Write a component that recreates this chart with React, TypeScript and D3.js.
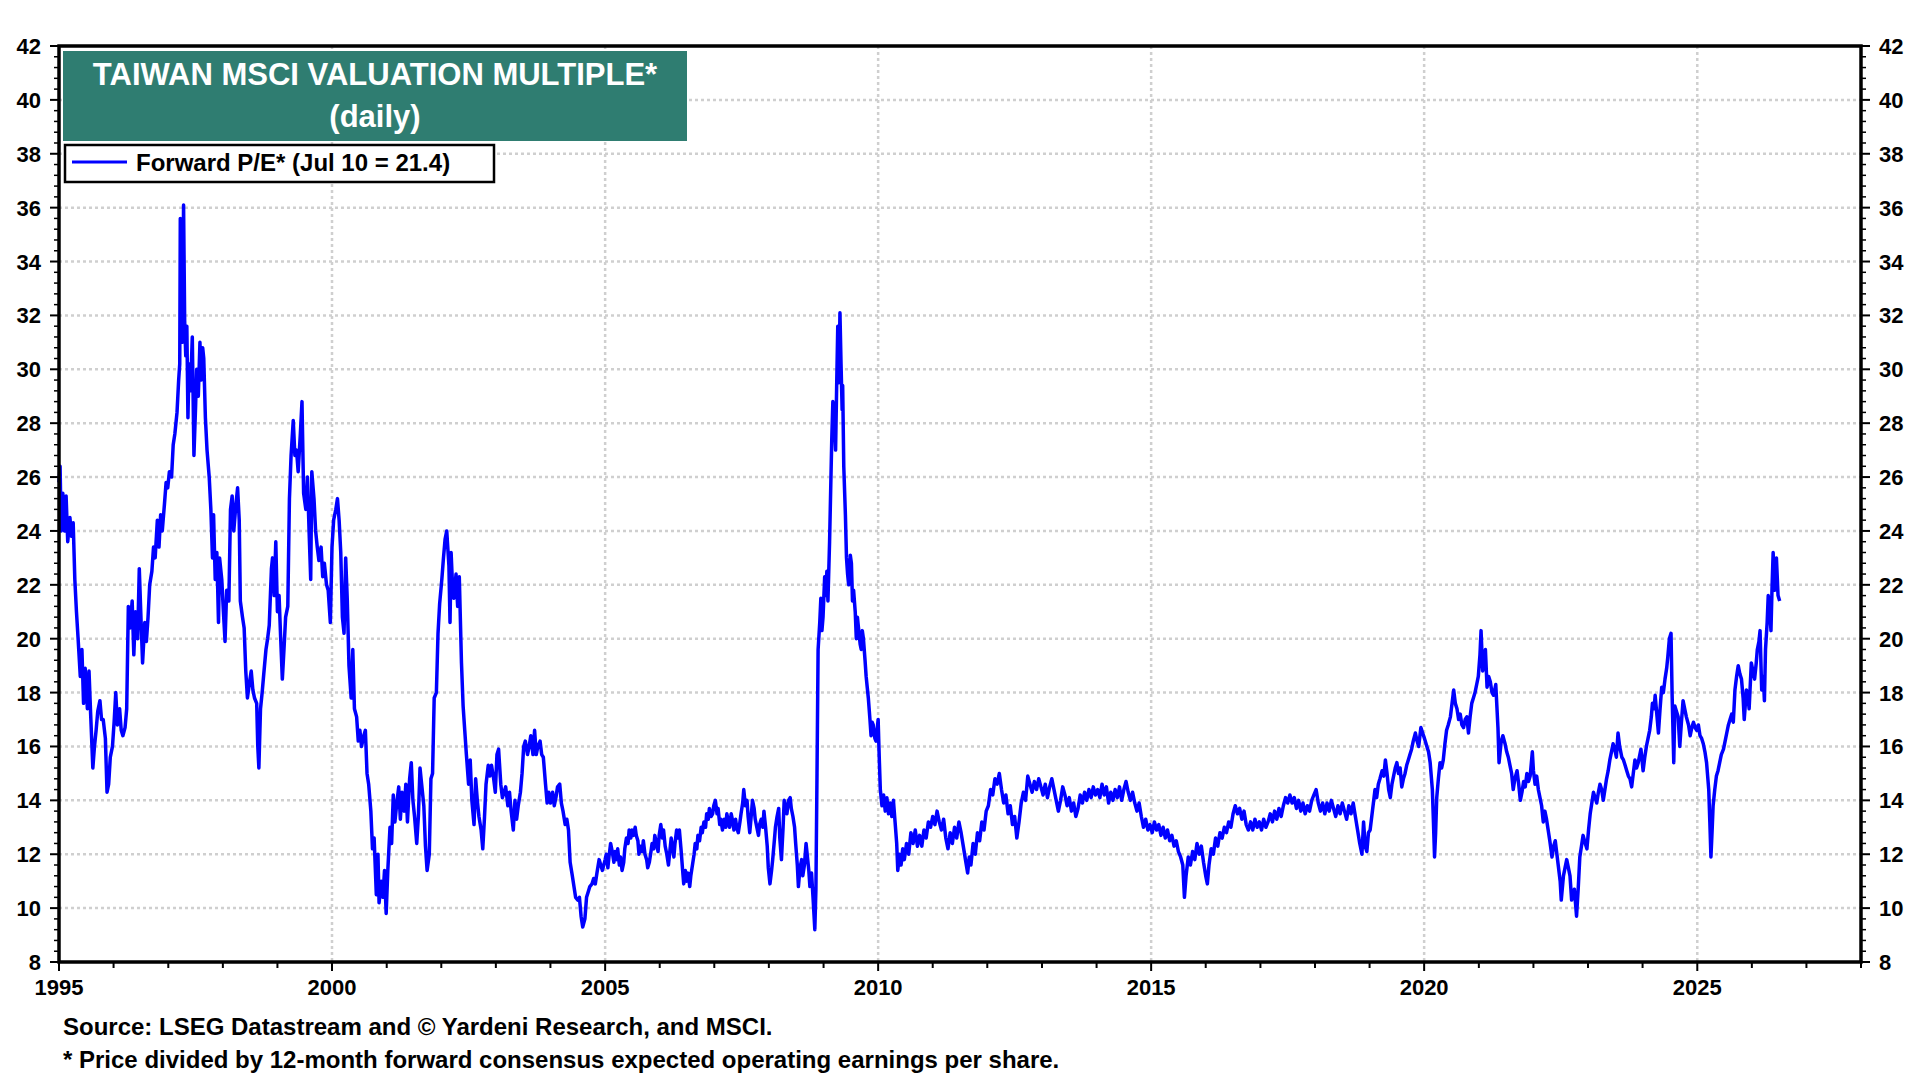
import React, { useEffect } from "react";
import * as d3 from "d3";

// ---------- DATA (decimal year, forward P/E) ----------
const pe1995_1999: [number, number][] = [
  [1995.0, 25.8], [1995.02, 26.4], [1995.04, 24.0], [1995.07, 25.4], [1995.1, 24.0], [1995.13, 25.3],
  [1995.16, 23.6], [1995.2, 24.5], [1995.23, 23.8], [1995.26, 24.3], [1995.29, 22.2], [1995.32, 21.0],
  [1995.35, 20.0], [1995.39, 18.6], [1995.42, 19.6], [1995.45, 17.6], [1995.48, 18.9], [1995.52, 17.4],
  [1995.55, 18.8], [1995.58, 17.2], [1995.62, 15.2], [1995.65, 16.0], [1995.68, 16.6], [1995.71, 17.3],
  [1995.75, 17.7], [1995.78, 17.0], [1995.81, 17.0], [1995.85, 16.3], [1995.88, 14.3], [1995.91, 14.6],
  [1995.94, 15.6], [1995.98, 16.0], [1996.01, 16.9], [1996.04, 18.0], [1996.07, 16.8], [1996.11, 17.4],
  [1996.14, 16.6], [1996.17, 16.4], [1996.21, 16.7], [1996.24, 17.4], [1996.27, 21.2], [1996.3, 20.4],
  [1996.34, 21.4], [1996.37, 19.4], [1996.4, 21.0], [1996.44, 20.0], [1996.47, 22.6], [1996.5, 20.8],
  [1996.53, 19.1], [1996.57, 20.6], [1996.6, 19.9], [1996.63, 20.8], [1996.66, 22.0], [1996.7, 22.5],
  [1996.73, 23.4], [1996.76, 23.0], [1996.8, 24.4], [1996.83, 23.4], [1996.86, 24.6], [1996.89, 24.0],
  [1996.93, 25.0], [1996.96, 25.8], [1996.99, 25.6], [1997.02, 26.2], [1997.06, 26.0], [1997.09, 27.2],
  [1997.12, 27.6], [1997.16, 28.4], [1997.19, 29.6], [1997.21, 30.2], [1997.22, 35.6], [1997.24, 33.0],
  [1997.26, 31.0], [1997.28, 36.1], [1997.3, 31.8], [1997.32, 30.5], [1997.34, 31.6], [1997.36, 28.2],
  [1997.38, 30.2], [1997.4, 29.2], [1997.42, 30.0], [1997.44, 31.2], [1997.47, 26.8], [1997.5, 28.6],
  [1997.52, 30.0], [1997.55, 29.0], [1997.58, 31.0], [1997.6, 29.6], [1997.63, 30.8], [1997.65, 30.4],
  [1997.68, 28.2], [1997.71, 27.0], [1997.75, 26.0], [1997.78, 24.8], [1997.81, 23.0], [1997.83, 24.6],
  [1997.86, 22.2], [1997.89, 23.2], [1997.92, 20.6], [1997.94, 23.0], [1997.98, 22.2], [1998.01, 21.0],
  [1998.04, 19.9], [1998.07, 21.8], [1998.11, 21.4], [1998.14, 24.8], [1998.17, 25.3], [1998.2, 24.0],
  [1998.24, 25.0], [1998.27, 25.6], [1998.3, 24.4], [1998.32, 21.4], [1998.36, 20.8], [1998.39, 20.4],
  [1998.42, 18.8], [1998.45, 17.8], [1998.49, 18.4], [1998.52, 18.8], [1998.55, 18.1], [1998.58, 17.8],
  [1998.62, 17.6], [1998.64, 16.0], [1998.66, 15.2], [1998.69, 17.4], [1998.72, 18.0], [1998.75, 18.7],
  [1998.79, 19.6], [1998.82, 20.0], [1998.85, 20.5], [1998.89, 22.6], [1998.91, 23.0], [1998.94, 21.6],
  [1998.97, 23.6], [1999.0, 21.0], [1999.03, 21.6], [1999.06, 20.0], [1999.09, 18.5], [1999.12, 19.6],
  [1999.15, 20.8], [1999.19, 21.2], [1999.22, 25.2], [1999.25, 26.8], [1999.29, 28.1], [1999.32, 26.8],
  [1999.35, 27.0], [1999.38, 26.2], [1999.42, 27.6], [1999.45, 28.8], [1999.48, 25.4], [1999.52, 24.8],
  [1999.55, 26.0], [1999.58, 24.0], [1999.61, 22.2], [1999.63, 26.2], [1999.67, 25.2], [1999.7, 24.0],
  [1999.73, 23.4], [1999.76, 22.9], [1999.8, 23.4], [1999.83, 22.3], [1999.86, 22.8], [1999.9, 22.0],
  [1999.93, 21.8], [1999.97, 20.6],
];

const pe2000_2004: [number, number][] = [
  [2000.0, 23.4], [2000.03, 24.4], [2000.07, 24.8], [2000.1, 25.2], [2000.13, 24.4], [2000.16, 23.2],
  [2000.19, 20.8], [2000.22, 20.2], [2000.25, 23.0], [2000.28, 21.4], [2000.31, 19.0], [2000.35, 17.8],
  [2000.38, 19.6], [2000.41, 17.4], [2000.45, 17.1], [2000.48, 16.2], [2000.51, 16.6], [2000.54, 16.0],
  [2000.58, 16.4], [2000.61, 16.6], [2000.64, 15.0], [2000.67, 14.6], [2000.71, 13.6], [2000.74, 12.2],
  [2000.77, 12.6], [2000.81, 10.5], [2000.84, 12.0], [2000.86, 10.2], [2000.9, 11.0], [2000.93, 10.4],
  [2000.96, 11.4], [2000.99, 9.8], [2001.02, 11.4], [2001.06, 13.0], [2001.09, 12.4], [2001.12, 14.2],
  [2001.15, 13.2], [2001.19, 14.0], [2001.22, 14.5], [2001.25, 13.3], [2001.28, 14.3], [2001.32, 13.6],
  [2001.35, 14.6], [2001.38, 13.2], [2001.42, 14.8], [2001.45, 15.4], [2001.48, 14.0], [2001.51, 13.4],
  [2001.55, 12.4], [2001.58, 13.4], [2001.61, 15.2], [2001.64, 14.6], [2001.68, 13.8], [2001.71, 12.3],
  [2001.74, 11.4], [2001.78, 12.0], [2001.81, 14.8], [2001.84, 15.0], [2001.87, 17.8], [2001.91, 18.0],
  [2001.94, 20.2], [2001.97, 21.3], [2002.01, 22.2], [2002.04, 23.0], [2002.07, 23.7], [2002.1, 24.0],
  [2002.14, 22.7], [2002.16, 20.6], [2002.18, 23.2], [2002.21, 21.8], [2002.23, 21.5], [2002.27, 22.4],
  [2002.3, 21.2], [2002.33, 22.3], [2002.37, 19.1], [2002.4, 17.5], [2002.43, 16.6], [2002.46, 15.7],
  [2002.5, 14.6], [2002.53, 15.5], [2002.56, 14.0], [2002.6, 13.1], [2002.63, 14.8], [2002.66, 14.0],
  [2002.69, 13.4], [2002.73, 12.9], [2002.76, 12.2], [2002.79, 13.3], [2002.82, 14.6], [2002.86, 15.3],
  [2002.89, 14.9], [2002.92, 15.3], [2002.96, 14.8], [2002.99, 14.3], [2003.02, 15.7], [2003.05, 15.9],
  [2003.09, 14.6], [2003.12, 14.1], [2003.15, 14.3], [2003.18, 14.5], [2003.22, 13.8], [2003.25, 14.3],
  [2003.28, 13.6], [2003.32, 12.9], [2003.35, 14.0], [2003.38, 13.3], [2003.41, 13.8], [2003.45, 14.3],
  [2003.48, 15.0], [2003.51, 16.0], [2003.54, 16.2], [2003.58, 15.7], [2003.61, 16.0], [2003.64, 16.4],
  [2003.68, 15.7], [2003.71, 16.6], [2003.74, 15.7], [2003.77, 16.0], [2003.81, 16.2], [2003.84, 15.7],
  [2003.87, 15.6], [2003.91, 14.6], [2003.94, 13.9], [2003.97, 14.3], [2004.0, 13.9], [2004.04, 14.3],
  [2004.07, 13.8], [2004.1, 14.1], [2004.13, 14.5], [2004.17, 14.6], [2004.2, 13.9], [2004.23, 13.6],
  [2004.27, 13.1], [2004.3, 13.3], [2004.33, 12.9], [2004.36, 11.7], [2004.4, 11.2], [2004.43, 10.8],
  [2004.46, 10.4], [2004.5, 10.3], [2004.53, 10.4], [2004.56, 9.7], [2004.59, 9.3], [2004.63, 9.6],
  [2004.66, 10.4], [2004.69, 10.6], [2004.72, 10.8], [2004.76, 10.9], [2004.79, 11.1], [2004.82, 10.9],
  [2004.85, 11.3], [2004.89, 11.8], [2004.92, 11.6], [2004.95, 11.4],
];

const pe2005_2009: [number, number][] = [
  [2005.0, 11.8], [2005.02, 12.0], [2005.05, 11.5], [2005.07, 11.9], [2005.1, 12.4], [2005.13, 12.1],
  [2005.16, 11.7], [2005.18, 12.1], [2005.21, 11.8], [2005.23, 12.2], [2005.26, 11.6], [2005.28, 11.9],
  [2005.31, 11.4], [2005.34, 11.7], [2005.36, 12.2], [2005.39, 12.6], [2005.42, 12.4], [2005.44, 12.9],
  [2005.47, 12.6], [2005.49, 12.9], [2005.52, 12.7], [2005.55, 13.0], [2005.57, 12.7], [2005.6, 12.5],
  [2005.62, 12.0], [2005.65, 12.3], [2005.68, 12.1], [2005.7, 12.5], [2005.73, 12.0], [2005.76, 11.8],
  [2005.78, 11.5], [2005.81, 11.7], [2005.84, 12.1], [2005.86, 12.4], [2005.89, 12.2], [2005.91, 12.7],
  [2005.94, 12.4], [2005.97, 12.1], [2005.99, 12.7], [2006.02, 13.1], [2006.05, 12.6], [2006.07, 12.9],
  [2006.1, 12.3], [2006.13, 12.0], [2006.16, 11.6], [2006.18, 12.0], [2006.21, 12.6], [2006.23, 12.3],
  [2006.26, 11.9], [2006.28, 12.4], [2006.31, 12.9], [2006.34, 12.6], [2006.36, 12.9], [2006.39, 12.2],
  [2006.42, 11.4], [2006.44, 10.9], [2006.47, 11.4], [2006.49, 11.0], [2006.52, 11.3], [2006.55, 10.8],
  [2006.57, 11.2], [2006.6, 11.6], [2006.63, 12.0], [2006.65, 12.4], [2006.68, 12.2], [2006.7, 12.7],
  [2006.73, 12.5], [2006.76, 13.0], [2006.78, 12.8], [2006.81, 13.2], [2006.84, 13.0], [2006.86, 13.5],
  [2006.89, 13.3], [2006.91, 13.7], [2006.94, 13.4], [2006.97, 13.5], [2006.99, 13.8], [2007.02, 14.0],
  [2007.05, 13.5], [2007.07, 13.7], [2007.1, 13.1], [2007.12, 13.3], [2007.15, 12.9], [2007.18, 13.3],
  [2007.21, 13.0], [2007.23, 13.5], [2007.26, 13.2], [2007.28, 13.0], [2007.31, 13.5], [2007.33, 13.3],
  [2007.36, 12.9], [2007.39, 13.3], [2007.41, 13.0], [2007.44, 12.8], [2007.47, 13.2], [2007.49, 13.5],
  [2007.52, 13.9], [2007.54, 14.4], [2007.57, 13.8], [2007.6, 14.0], [2007.62, 13.4], [2007.65, 12.8],
  [2007.68, 13.5], [2007.7, 14.0], [2007.73, 13.7], [2007.75, 13.3], [2007.78, 13.0], [2007.81, 12.7],
  [2007.83, 13.1], [2007.86, 13.3], [2007.89, 13.0], [2007.91, 13.6], [2007.94, 13.0], [2007.97, 12.3],
  [2007.99, 11.5], [2008.02, 10.9], [2008.05, 11.4], [2008.07, 11.8], [2008.1, 12.5], [2008.12, 13.0],
  [2008.15, 13.4], [2008.18, 13.7], [2008.2, 12.6], [2008.23, 11.8], [2008.26, 13.0], [2008.28, 14.0],
  [2008.31, 13.7], [2008.33, 13.5], [2008.36, 14.0], [2008.39, 14.1], [2008.41, 13.7], [2008.44, 13.4],
  [2008.47, 13.0], [2008.49, 12.4], [2008.52, 11.6], [2008.54, 10.8], [2008.57, 11.5], [2008.6, 11.8],
  [2008.62, 11.2], [2008.65, 11.6], [2008.68, 12.4], [2008.7, 12.0], [2008.73, 11.4], [2008.75, 10.8],
  [2008.78, 11.3], [2008.81, 10.3], [2008.84, 9.2], [2008.86, 10.7], [2008.88, 15.0], [2008.9, 19.6],
  [2008.93, 20.6], [2008.95, 21.5], [2008.97, 20.3], [2008.99, 20.8], [2009.02, 22.3], [2009.04, 21.6],
  [2009.06, 22.5], [2009.08, 21.4], [2009.11, 23.6], [2009.13, 25.5], [2009.15, 27.4], [2009.17, 28.8],
  [2009.2, 28.0], [2009.22, 27.0], [2009.24, 29.4], [2009.26, 31.6], [2009.28, 29.5], [2009.3, 32.1],
  [2009.32, 30.2], [2009.34, 28.5], [2009.35, 29.4], [2009.37, 26.4], [2009.4, 24.6], [2009.42, 23.0],
  [2009.44, 22.4], [2009.46, 22.0], [2009.49, 23.1], [2009.51, 22.8], [2009.53, 21.4], [2009.55, 21.8],
  [2009.58, 21.0], [2009.6, 20.0], [2009.62, 20.8], [2009.64, 20.4], [2009.67, 19.8], [2009.69, 19.6],
  [2009.71, 20.3], [2009.73, 20.0], [2009.76, 19.2], [2009.78, 18.6], [2009.8, 18.2], [2009.82, 17.8],
  [2009.85, 17.0], [2009.87, 16.4], [2009.89, 16.9], [2009.91, 16.8], [2009.94, 16.3], [2009.96, 16.2],
  [2009.98, 16.6],
];

const pe2010_2018: [number, number][] = [
  [2010.0, 17.0], [2010.02, 15.6], [2010.04, 14.4], [2010.07, 13.8], [2010.1, 14.2], [2010.13, 13.6],
  [2010.16, 14.1], [2010.19, 13.5], [2010.22, 13.9], [2010.25, 13.4], [2010.28, 14.0], [2010.31, 13.2],
  [2010.34, 12.4], [2010.36, 11.4], [2010.39, 12.0], [2010.42, 11.6], [2010.45, 12.2], [2010.48, 11.8],
  [2010.52, 12.4], [2010.56, 12.0], [2010.6, 12.8], [2010.64, 12.4], [2010.68, 12.9], [2010.72, 12.3],
  [2010.76, 12.7], [2010.8, 12.3], [2010.84, 12.9], [2010.88, 12.6], [2010.92, 13.2], [2010.96, 13.0],
  [2011.0, 13.4], [2011.04, 13.1], [2011.08, 13.6], [2011.12, 13.2], [2011.16, 12.9], [2011.2, 13.3],
  [2011.24, 12.6], [2011.28, 12.2], [2011.32, 12.8], [2011.36, 12.4], [2011.4, 13.0], [2011.44, 12.6],
  [2011.48, 13.2], [2011.52, 12.8], [2011.56, 12.3], [2011.6, 11.8], [2011.64, 11.3], [2011.67, 11.9],
  [2011.7, 11.6], [2011.74, 12.4], [2011.78, 12.0], [2011.82, 12.8], [2011.86, 12.5], [2011.9, 13.2],
  [2011.94, 12.9], [2011.98, 13.6], [2012.02, 13.8], [2012.06, 14.4], [2012.1, 14.2], [2012.14, 14.8],
  [2012.18, 14.6], [2012.22, 15.0], [2012.26, 14.4], [2012.3, 13.9], [2012.34, 14.2], [2012.38, 13.5],
  [2012.42, 13.8], [2012.46, 13.1], [2012.5, 13.4], [2012.54, 12.6], [2012.58, 13.2], [2012.62, 13.9],
  [2012.66, 14.3], [2012.7, 14.0], [2012.74, 14.9], [2012.78, 14.6], [2012.82, 14.3], [2012.86, 14.7],
  [2012.9, 14.4], [2012.94, 14.8], [2012.98, 14.5], [2013.02, 14.2], [2013.06, 14.6], [2013.1, 14.1],
  [2013.14, 14.5], [2013.18, 14.8], [2013.22, 14.4], [2013.26, 14.0], [2013.3, 13.6], [2013.34, 14.0],
  [2013.38, 14.5], [2013.42, 14.2], [2013.46, 13.8], [2013.5, 14.1], [2013.54, 13.6], [2013.58, 13.9],
  [2013.62, 13.4], [2013.66, 13.7], [2013.7, 14.2], [2013.74, 13.9], [2013.78, 14.3], [2013.82, 14.0],
  [2013.86, 14.4], [2013.9, 14.1], [2013.94, 14.5], [2013.98, 14.2], [2014.02, 14.4], [2014.06, 14.1],
  [2014.1, 14.6], [2014.14, 14.2], [2014.18, 14.5], [2014.22, 13.9], [2014.26, 14.3], [2014.3, 14.0],
  [2014.34, 14.4], [2014.38, 14.1], [2014.42, 14.5], [2014.46, 14.0], [2014.5, 14.4], [2014.54, 14.7],
  [2014.58, 14.3], [2014.62, 14.0], [2014.66, 14.3], [2014.7, 13.9], [2014.74, 13.6], [2014.78, 13.9],
  [2014.82, 13.4], [2014.86, 13.0], [2014.9, 13.3], [2014.94, 12.9], [2014.98, 13.1], [2015.02, 12.8],
  [2015.06, 13.2], [2015.1, 12.9], [2015.14, 13.1], [2015.18, 12.7], [2015.22, 13.0], [2015.26, 12.6],
  [2015.3, 12.9], [2015.34, 12.5], [2015.38, 12.7], [2015.42, 12.3], [2015.46, 12.5], [2015.5, 12.1],
  [2015.54, 11.9], [2015.58, 11.6], [2015.61, 10.4], [2015.64, 11.2], [2015.68, 11.9], [2015.72, 11.6],
  [2015.76, 12.1], [2015.8, 11.8], [2015.84, 12.4], [2015.88, 12.0], [2015.92, 12.3], [2015.96, 11.7],
  [2016.0, 11.2], [2016.03, 10.9], [2016.06, 11.6], [2016.1, 12.2], [2016.14, 12.0], [2016.18, 12.6],
  [2016.22, 12.3], [2016.26, 12.8], [2016.3, 12.6], [2016.34, 13.0], [2016.38, 12.8], [2016.42, 13.2],
  [2016.46, 13.0], [2016.5, 13.5], [2016.54, 13.8], [2016.58, 13.5], [2016.62, 13.7], [2016.66, 13.3],
  [2016.7, 13.6], [2016.74, 13.1], [2016.78, 12.9], [2016.82, 13.2], [2016.86, 12.9], [2016.9, 13.3],
  [2016.94, 13.0], [2016.98, 13.2], [2017.02, 12.9], [2017.06, 13.3], [2017.1, 13.0], [2017.14, 13.2],
  [2017.18, 13.5], [2017.22, 13.2], [2017.26, 13.6], [2017.3, 13.3], [2017.34, 13.7], [2017.38, 13.4],
  [2017.42, 13.8], [2017.46, 14.1], [2017.5, 13.9], [2017.54, 14.2], [2017.58, 13.9], [2017.62, 14.1],
  [2017.66, 13.7], [2017.7, 14.0], [2017.74, 13.6], [2017.78, 13.9], [2017.82, 13.5], [2017.86, 13.8],
  [2017.9, 13.6], [2017.94, 14.0], [2017.98, 14.2], [2018.02, 14.4], [2018.06, 13.9], [2018.1, 13.6],
  [2018.14, 13.9], [2018.18, 13.5], [2018.22, 13.9], [2018.26, 13.6], [2018.3, 14.0], [2018.34, 13.7],
  [2018.38, 13.4], [2018.42, 13.8], [2018.46, 13.5], [2018.5, 13.9], [2018.54, 13.6], [2018.58, 13.3],
  [2018.62, 13.8], [2018.66, 13.5], [2018.7, 13.9], [2018.74, 13.4], [2018.78, 12.9], [2018.82, 12.4],
  [2018.86, 12.0], [2018.89, 13.2], [2018.92, 12.3], [2018.95, 12.1], [2018.98, 12.8],
];

const pe2019_2026: [number, number][] = [
  [2019.01, 12.9], [2019.04, 13.4], [2019.07, 13.9], [2019.1, 14.4], [2019.13, 14.1], [2019.16, 14.6],
  [2019.19, 14.8], [2019.23, 15.1], [2019.26, 14.9], [2019.29, 15.5], [2019.32, 15.0], [2019.35, 14.4],
  [2019.38, 14.1], [2019.41, 14.6], [2019.44, 14.9], [2019.47, 15.2], [2019.5, 15.4], [2019.53, 15.0],
  [2019.56, 15.2], [2019.59, 14.5], [2019.62, 14.8], [2019.65, 15.0], [2019.68, 15.3], [2019.71, 15.5],
  [2019.74, 15.7], [2019.77, 15.9], [2019.8, 16.2], [2019.84, 16.5], [2019.87, 16.2], [2019.9, 16.0],
  [2019.94, 16.7], [2019.99, 16.4], [2020.02, 16.2], [2020.05, 16.0], [2020.08, 15.8], [2020.11, 15.4],
  [2020.15, 14.4], [2020.17, 13.2], [2020.19, 11.9], [2020.21, 12.8], [2020.23, 14.1], [2020.26, 14.8],
  [2020.29, 15.4], [2020.32, 15.2], [2020.35, 15.5], [2020.38, 16.1], [2020.41, 16.6], [2020.44, 16.8],
  [2020.48, 17.1], [2020.51, 17.6], [2020.54, 18.1], [2020.57, 17.6], [2020.6, 17.4], [2020.63, 17.0],
  [2020.66, 17.2], [2020.69, 16.8], [2020.72, 16.7], [2020.75, 17.0], [2020.78, 17.1], [2020.81, 16.5],
  [2020.84, 17.1], [2020.87, 17.6], [2020.9, 17.8], [2020.93, 18.0], [2020.96, 18.3], [2020.99, 18.6],
  [2021.02, 19.4], [2021.04, 20.3], [2021.07, 18.8], [2021.1, 19.2], [2021.12, 19.6], [2021.15, 18.2],
  [2021.18, 18.6], [2021.21, 18.4], [2021.24, 18.0], [2021.27, 17.9], [2021.31, 18.3], [2021.35, 16.7],
  [2021.37, 15.4], [2021.41, 16.2], [2021.44, 16.4], [2021.48, 16.1], [2021.51, 15.8], [2021.54, 15.6],
  [2021.57, 15.3], [2021.6, 15.0], [2021.63, 14.4], [2021.66, 14.8], [2021.7, 15.1], [2021.73, 14.6],
  [2021.76, 14.0], [2021.79, 14.3], [2021.82, 14.7], [2021.85, 14.5], [2021.88, 15.0], [2021.91, 14.7],
  [2021.94, 14.9], [2021.98, 15.8], [2022.0, 15.1], [2022.03, 14.6], [2022.06, 14.9], [2022.09, 14.4],
  [2022.12, 14.1], [2022.15, 13.8], [2022.18, 13.2], [2022.21, 13.6], [2022.24, 13.3], [2022.27, 12.9],
  [2022.3, 12.5], [2022.34, 11.9], [2022.37, 12.3], [2022.4, 12.5], [2022.43, 12.0], [2022.46, 11.5],
  [2022.49, 11.0], [2022.51, 10.3], [2022.55, 11.2], [2022.58, 11.5], [2022.61, 11.8], [2022.64, 11.5],
  [2022.67, 11.2], [2022.7, 10.3], [2022.75, 10.7], [2022.77, 10.2], [2022.79, 9.7], [2022.82, 10.7],
  [2022.85, 11.9], [2022.88, 12.3], [2022.91, 12.7], [2022.95, 12.4], [2022.98, 12.2], [2023.01, 12.9],
  [2023.04, 13.5], [2023.07, 13.9], [2023.1, 14.3], [2023.13, 14.1], [2023.16, 13.9], [2023.19, 14.3],
  [2023.22, 14.6], [2023.25, 14.4], [2023.28, 14.0], [2023.31, 14.4], [2023.34, 14.8], [2023.37, 15.1],
  [2023.4, 15.5], [2023.43, 15.8], [2023.46, 16.1], [2023.49, 15.9], [2023.52, 15.6], [2023.55, 16.5],
  [2023.58, 16.0], [2023.62, 15.6], [2023.65, 15.5], [2023.68, 15.3], [2023.71, 15.1], [2023.74, 14.9],
  [2023.77, 14.8], [2023.8, 14.5], [2023.83, 15.0], [2023.86, 15.5], [2023.89, 15.2], [2023.92, 15.4],
  [2023.95, 15.7], [2023.97, 15.9], [2024.01, 15.1], [2024.04, 15.6], [2024.07, 16.0], [2024.1, 16.3],
  [2024.13, 16.6], [2024.16, 17.1], [2024.18, 17.6], [2024.21, 17.4], [2024.23, 17.9], [2024.26, 17.2],
  [2024.29, 16.5], [2024.32, 17.4], [2024.35, 18.2], [2024.38, 18.0], [2024.41, 18.5], [2024.44, 18.9],
  [2024.46, 19.3], [2024.49, 20.0], [2024.52, 20.2], [2024.54, 17.9], [2024.57, 15.4], [2024.59, 17.5],
  [2024.62, 17.3], [2024.65, 17.1], [2024.68, 16.0], [2024.71, 16.9], [2024.74, 17.7], [2024.77, 17.4],
  [2024.8, 17.1], [2024.84, 16.8], [2024.87, 16.4], [2024.9, 16.7], [2024.93, 16.9], [2024.96, 16.7],
  [2024.99, 16.6], [2025.02, 16.8], [2025.05, 16.4], [2025.08, 16.3], [2025.11, 16.1], [2025.14, 15.8],
  [2025.17, 15.4], [2025.21, 14.4], [2025.23, 13.2], [2025.25, 11.9], [2025.27, 12.8], [2025.29, 13.8],
  [2025.32, 14.4], [2025.35, 14.9], [2025.38, 15.1], [2025.41, 15.4], [2025.44, 15.7], [2025.48, 15.9],
  [2025.51, 16.2], [2025.54, 16.5], [2025.57, 16.8], [2025.6, 17.0], [2025.63, 17.2], [2025.66, 16.9],
  [2025.69, 18.1], [2025.72, 18.6], [2025.75, 19.0], [2025.78, 18.7], [2025.81, 18.5], [2025.84, 17.8],
  [2025.86, 17.0], [2025.9, 18.1], [2025.93, 17.8], [2025.95, 17.4], [2025.99, 19.1], [2026.02, 18.8],
  [2026.05, 18.5], [2026.08, 19.1], [2026.1, 19.6], [2026.13, 19.9], [2026.15, 20.3], [2026.18, 18.1],
  [2026.21, 18.6], [2026.23, 17.7], [2026.25, 19.6], [2026.28, 20.6], [2026.3, 21.6], [2026.33, 21.0],
  [2026.35, 20.3], [2026.37, 21.9], [2026.39, 23.2], [2026.42, 21.8], [2026.45, 23.0], [2026.48, 21.6],
  [2026.51, 21.4],
];

const yearLabels = [1995, 2000, 2005, 2010, 2015, 2020, 2025];
const titleLines = ["TAIWAN MSCI VALUATION MULTIPLE*", "(daily)"];
const legendLabel = "Forward P/E* (Jul 10 = 21.4)";
const footnotes = [
  "Source: LSEG Datastream and \u00A9 Yardeni Research, and MSCI.",
  "* Price divided by 12-month forward consensus expected operating earnings per share.",
];

// ---------- LAYOUT ----------
const W = 1920;
const H = 1080;
const M = { left: 59, right: 1861, top: 46, bottom: 962 };
const FONT = "'Liberation Sans', Arial, Helvetica, sans-serif";

const toDate = (y: number) => {
  const yr = Math.floor(y);
  const s = new Date(yr, 0, 1).getTime();
  const e = new Date(yr + 1, 0, 1).getTime();
  return new Date(s + (y - yr) * (e - s));
};

export default function App() {
  useEffect(() => {
    document.body.style.margin = "0";
  }, []);

  const x = d3
    .scaleTime()
    .domain([new Date(1995, 0, 1), new Date(2028, 0, 1)])
    .range([M.left, M.right]);
  const y = d3.scaleLinear().domain([8, 42]).range([M.bottom, M.top]);

  const series = [...pe1995_1999, ...pe2000_2004, ...pe2005_2009, ...pe2010_2018, ...pe2019_2026];
  const line = d3
    .line<[number, number]>()
    .x((d) => x(toDate(d[0])))
    .y((d) => y(d[1]));

  const yMajor = d3.range(8, 42.001, 2);
  const yMinor = d3.range(8, 42.001, 0.4).filter((v) => Math.abs(v / 2 - Math.round(v / 2)) > 0.01);
  const xYears = d3.timeYear.range(new Date(1995, 0, 1), new Date(2028, 0, 2));

  const grid = "#cfcfcf";

  return (
    <svg width={W} height={H} style={{ display: "block", background: "#fff" }} fontFamily={FONT}>
      {/* grid */}
      {yMajor
        .filter((v) => v > 8 && v < 42)
        .map((v) => (
          <line key={"gy" + v} x1={M.left} x2={M.right} y1={y(v)} y2={y(v)} stroke={grid} strokeWidth={2.5} strokeDasharray="3,3" />
        ))}
      {yearLabels
        .filter((yr) => yr > 1995)
        .map((yr) => (
          <line key={"gx" + yr} x1={x(new Date(yr, 0, 1))} x2={x(new Date(yr, 0, 1))} y1={M.top} y2={M.bottom} stroke={grid} strokeWidth={2.5} strokeDasharray="3,3" />
        ))}

      {/* data line */}
      <path d={line(series) || ""} fill="none" stroke="#0000ff" strokeWidth={3.5} strokeLinejoin="round" />

      {/* frame */}
      <rect x={M.left} y={M.top} width={M.right - M.left} height={M.bottom - M.top} fill="none" stroke="#000" strokeWidth={3.5} />

      {/* y ticks left & right */}
      {yMajor.map((v) => (
        <g key={"yt" + v}>
          <line x1={M.left - 9} x2={M.left} y1={y(v)} y2={y(v)} stroke="#000" strokeWidth={2} />
          <line x1={M.right} x2={M.right + 9} y1={y(v)} y2={y(v)} stroke="#000" strokeWidth={2} />
          <text x={41} y={y(v) + 8} textAnchor="end" fontSize={22} fontWeight="bold" fill="#000">
            {v}
          </text>
          <text x={1879} y={y(v) + 8} textAnchor="start" fontSize={22} fontWeight="bold" fill="#000">
            {v}
          </text>
        </g>
      ))}
      {yMinor.map((v) => (
        <g key={"ym" + v.toFixed(1)}>
          <line x1={M.left - 5} x2={M.left} y1={y(v)} y2={y(v)} stroke="#000" strokeWidth={1.5} />
          <line x1={M.right} x2={M.right + 5} y1={y(v)} y2={y(v)} stroke="#000" strokeWidth={1.5} />
        </g>
      ))}

      {/* x ticks */}
      {xYears.map((d) => {
        const major = d.getFullYear() % 5 === 0;
        return (
          <line key={"xt" + d.getFullYear()} x1={x(d)} x2={x(d)} y1={M.bottom} y2={M.bottom + (major ? 9 : 6)} stroke="#000" strokeWidth={2} />
        );
      })}
      {yearLabels.map((yr) => (
        <text key={"xl" + yr} x={x(new Date(yr, 0, 1))} y={995} textAnchor="middle" fontSize={22} fontWeight="bold" fill="#000">
          {yr}
        </text>
      ))}

      {/* title box */}
      <rect x={63} y={51} width={624} height={90} fill="#2f7d71" />
      <text x={375} y={85} textAnchor="middle" fontSize={31} fontWeight="bold" fill="#fff">
        {titleLines[0]}
      </text>
      <text x={375} y={127} textAnchor="middle" fontSize={31} fontWeight="bold" fill="#fff">
        {titleLines[1]}
      </text>

      {/* legend */}
      <rect x={65} y={145} width={429} height={37} fill="#fff" stroke="#000" strokeWidth={2.5} />
      <line x1={72} x2={127} y1={162} y2={162} stroke="#0000ff" strokeWidth={3} />
      <text x={136} y={171} fontSize={24} fontWeight="bold" fill="#000">
        {legendLabel}
      </text>

      {/* footnotes */}
      {footnotes.map((t, i) => (
        <text key={"fn" + i} x={63} y={1035 + i * 33} fontSize={24} fontWeight="bold" fill="#000">
          {t}
        </text>
      ))}
    </svg>
  );
}
